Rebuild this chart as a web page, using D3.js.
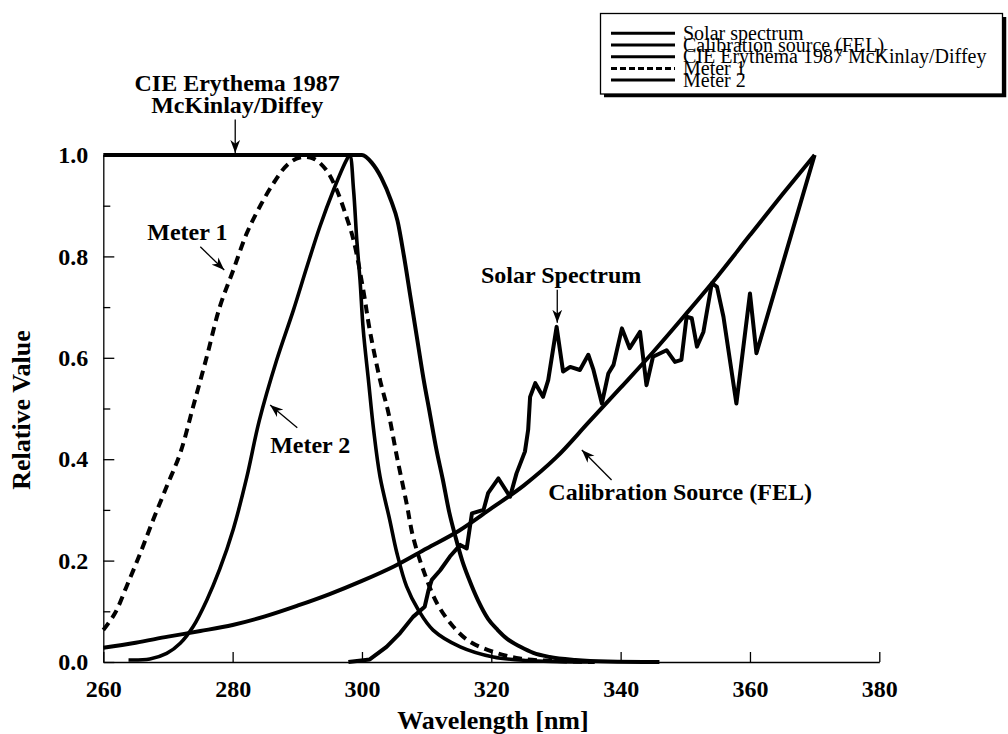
<!DOCTYPE html>
<html>
<head>
<meta charset="utf-8">
<script src="https://cdn.jsdelivr.net/npm/d3@7"></script>
<style>
  body { margin: 0; background: #fff; }
  svg { display: block; }
  .lbl { font-family: "Liberation Serif", "Times New Roman", serif; font-weight: bold; font-size: 24px; fill: #000; }
  .ttl { font-family: "Liberation Serif", "Times New Roman", serif; font-weight: bold; font-size: 26px; fill: #000; }
  .leg { font-family: "Liberation Serif", "Times New Roman", serif; font-size: 20px; fill: #000; }
</style>
</head>
<body>
<svg id="chart" width="1008" height="734"></svg>
<script>
// wavelength [nm], relative value
const erythema = [[260,1],[270,1],[280,1],[290,1],[299,1],[300,1],[301.5,0.985],[303,0.955],[304.5,0.91],
  [305.5,0.87],[306.5,0.8],[307.5,0.72],[308.5,0.64],[309.5,0.56],[310.5,0.49],[311.5,0.42],[312.5,0.36],
  [313.5,0.295],[314.5,0.245],[315.5,0.2],[316.5,0.165],[318,0.12],[319.5,0.085],[321,0.063],[322.5,0.045],
  [324.5,0.03],[326.5,0.018],[329,0.01],[333,0.004],[338,0.001],[346,0]];

const meter1 = [[260,0.063],[261.8,0.096],[263.6,0.149],[265.7,0.214],[267.7,0.28],[269.8,0.346],[271.9,0.412],
  [273.9,0.504],[276,0.602],[278,0.7],[280.1,0.773],[282.2,0.846],[284.2,0.898],[286.3,0.944],[288.4,0.98],
  [290.4,0.995],[292.5,0.993],[294.5,0.97],[296.1,0.931],[297.6,0.878],[298.7,0.832],[300.2,0.734],[301.2,0.655],
  [302.8,0.556],[304.1,0.491],[305.4,0.405],[306.9,0.313],[307.9,0.247],[309.5,0.181],[311.6,0.116],[314.1,0.07],
  [316.7,0.04],[320.3,0.02],[324.4,0.007],[330,0.002],[336,0]];

const meter2 = [[263.9,0.004],[267.2,0.006],[269.8,0.017],[271.9,0.037],[273.9,0.07],[276,0.122],[278,0.183],
  [280.1,0.262],[282.2,0.365],[284.1,0.475],[286.8,0.595],[289.4,0.694],[291.5,0.78],[293.5,0.859],[295.6,0.931],
  [297.6,0.99],[298.1,1],[298.7,0.931],[299.2,0.832],[299.7,0.753],[300.2,0.655],[301,0.556],[301.8,0.458],
  [302.8,0.365],[304.3,0.28],[305.4,0.215],[306.9,0.149],[308.7,0.103],[311,0.063],[315.2,0.03],[320.3,0.01],
  [325.5,0.003],[335,0]];

const fel = [[260,0.028],[265,0.038],[270,0.05],[275,0.061],[280,0.073],[285,0.09],[290,0.111],[295,0.134],
  [300,0.16],[305,0.189],[310,0.224],[315,0.259],[320,0.303],[325,0.348],[330,0.403],[335,0.472],[340,0.541],
  [345,0.611],[350,0.685],[355,0.761],[360,0.842],[365,0.922],[370,1]];

const solar = [[297.9,0],[301.2,0.005],[303.8,0.03],[305.9,0.057],[307.9,0.089],[309.7,0.109],[310.3,0.142],
  [310.8,0.162],[312.1,0.181],[313.6,0.208],[315.2,0.231],[316.2,0.224],[317,0.293],[318.8,0.3],[319.5,0.333],
  [321.1,0.362],[322.9,0.326],[323.9,0.372],[325.2,0.415],[325.7,0.458],[326,0.523],[326.8,0.55],[328,0.523],
  [328.8,0.556],[330.1,0.661],[331.1,0.573],[332.2,0.582],[333.7,0.576],[335,0.606],[335.8,0.576],[337.1,0.51],
  [338.1,0.569],[338.9,0.586],[340.2,0.658],[341.4,0.619],[343,0.651],[344,0.546],[345,0.602],[347.1,0.615],
  [348.4,0.592],[349.4,0.596],[350.2,0.681],[351,0.678],[351.8,0.622],[352.8,0.651],[354.1,0.747],[354.9,0.74],
  [355.9,0.681],[357.9,0.51],[360,0.727],[361,0.609],[370,1]];

const xTicks = [260, 280, 300, 320, 340, 360, 380];
const yTicks = [0, 0.2, 0.4, 0.6, 0.8, 1.0];
const yMinor = [0.1, 0.3, 0.5, 0.7, 0.9];

const legendNames = ["Solar spectrum", "Calibration source (FEL)", "CIE Erythema 1987 McKinlay/Diffey", "Meter 1", "Meter 2"];
const legendDash = [null, null, null, "6,3", null];

const svg = d3.select("#chart");
const x = d3.scaleLinear().domain([260, 380]).range([103.3, 879.3]);
const y = d3.scaleLinear().domain([0, 1]).range([662, 155]);

// arrow head
svg.append("defs").append("marker")
  .attr("id", "head")
  .attr("viewBox", "0 0 12 10")
  .attr("markerUnits", "userSpaceOnUse")
  .attr("markerWidth", 13).attr("markerHeight", 11)
  .attr("refX", 12).attr("refY", 5)
  .attr("orient", "auto")
  .append("path").attr("d", "M0,0.5 L12,5 L0,9.5 L3.5,5 Z").attr("fill", "#000");

// axes
svg.append("g")
  .attr("transform", "translate(0," + y(0) + ")")
  .call(d3.axisBottom(x).tickValues(xTicks).tickSize(-10).tickSizeOuter(0).tickPadding(18).tickFormat(d3.format("d")));
svg.append("g")
  .attr("transform", "translate(" + x(260) + ",0)")
  .call(d3.axisLeft(y).tickValues(yTicks).tickSize(-11).tickSizeOuter(0).tickPadding(15).tickFormat(d3.format(".1f")));
svg.append("g")
  .attr("transform", "translate(" + x(260) + ",0)")
  .call(d3.axisLeft(y).tickValues(yMinor).tickSize(-7).tickSizeOuter(0).tickFormat(""))
  .select(".domain").remove();
svg.selectAll(".domain, .tick line").attr("stroke", "#000").attr("stroke-width", 1.3);
svg.selectAll(".tick text").attr("class", "lbl").attr("font-family", null).attr("font-size", null);

svg.append("text").attr("class", "ttl")
  .attr("x", 493).attr("y", 729).attr("text-anchor", "middle")
  .text("Wavelength [nm]");
svg.append("text").attr("class", "ttl")
  .attr("transform", "translate(30,410) rotate(-90)").attr("text-anchor", "middle")
  .text("Relative Value");

// curves
const smooth = d3.line().x(d => x(d[0])).y(d => y(d[1])).curve(d3.curveMonotoneX);
const rounded = d3.line().x(d => x(d[0])).y(d => y(d[1])).curve(d3.curveCatmullRom.alpha(0.5));
const straight = d3.line().x(d => x(d[0])).y(d => y(d[1]));

const plot = svg.append("g").attr("fill", "none").attr("stroke", "#000")
  .attr("stroke-linejoin", "round");
plot.append("path").attr("d", rounded(fel)).attr("stroke-width", 4);
plot.append("path").attr("d", straight(solar)).attr("stroke-width", 4);
plot.append("path").attr("d", smooth(erythema)).attr("stroke-width", 4);
plot.append("path").attr("d", rounded(meter2)).attr("stroke-width", 3.6);
plot.append("path").attr("d", rounded(meter1)).attr("stroke-width", 4).attr("stroke-dasharray", "9,6");

// annotations: text anchor [nm, value], arrow from/to [nm, value]
const notes = [
  { lines: ["CIE Erythema 1987", "McKinlay/Diffey"], at: [280.7, 1.126], from: [280.4, 1.07], to: [280.4, 1.004] },
  { lines: ["Meter 1"], at: [273.0, 0.832], from: [275.0, 0.819], to: [278.7, 0.773] },
  { lines: ["Meter 2"], at: [292.0, 0.412], from: [290.0, 0.462], to: [285.8, 0.507] },
  { lines: ["Solar Spectrum"], at: [330.8, 0.748], from: [330.2, 0.734], to: [330.2, 0.669] },
  { lines: ["Calibration Source (FEL)"], at: [349.2, 0.3195], from: [338.6, 0.359], to: [334.0, 0.418] }
];
notes.forEach(n => {
  const t = svg.append("text").attr("class", "lbl").attr("text-anchor", "middle");
  n.lines.forEach((s, i) => {
    t.append("tspan").attr("x", x(n.at[0])).attr("y", y(n.at[1]) + i * 22).text(s);
  });
  svg.append("line")
    .attr("x1", x(n.from[0])).attr("y1", y(n.from[1]))
    .attr("x2", x(n.to[0])).attr("y2", y(n.to[1]))
    .attr("stroke", "#000").attr("stroke-width", 1.3)
    .attr("marker-end", "url(#head)");
});

// legend box with drop shadow
const leg = svg.append("g");
leg.append("path").attr("d", "M604,95.5 H1004.5 V17").attr("fill", "none").attr("stroke", "#000").attr("stroke-width", 3.5);
leg.append("rect").attr("x", 600.5).attr("y", 13.5).attr("width", 402).attr("height", 80.5)
  .attr("fill", "#fff").attr("stroke", "#000").attr("stroke-width", 1.3);
legendNames.forEach((name, i) => {
  const ry = 33.3 + i * 11.7;
  leg.append("line").attr("x1", 611).attr("x2", 675).attr("y1", ry).attr("y2", ry)
    .attr("stroke", "#000").attr("stroke-width", 3)
    .attr("stroke-dasharray", legendDash[i]);
  leg.append("text").attr("class", "leg").attr("x", 683).attr("y", ry + 6.5).text(name);
});
</script>
</body>
</html>
